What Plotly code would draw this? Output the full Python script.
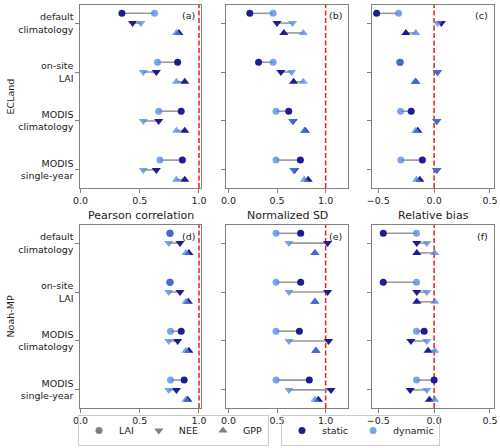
import plotly.graph_objects as go

# ---------------- data ----------------
configs = ["default<br>climatology", "on-site<br>LAI", "MODIS<br>climatology", "MODIS<br>single-year"]
variables = ["LAI", "NEE", "GPP"]
metric_titles = ["Pearson correlation", "Normalized SD", "Relative bias"]
model_names = ["ECLand", "Noah-MP"]
panel_labels = ["(a)", "(b)", "(c)", "(d)", "(e)", "(f)"]
reference_values = [1.0, 1.0, 0.0, 1.0, 1.0, 0.0]

# ECLand - Pearson correlation
a_static = {"LAI": [0.35, 0.82, 0.85, 0.86], "NEE": [0.44, 0.64, 0.66, 0.64], "GPP": [0.83, 0.88, 0.88, 0.88]}
a_dynamic = {"LAI": [0.625, 0.65, 0.66, 0.67], "NEE": [0.51, 0.53, 0.53, 0.53], "GPP": [0.81, 0.81, 0.81, 0.81]}
# ECLand - Normalized SD
b_static = {"LAI": [0.22, 0.31, 0.62, 0.74], "NEE": [0.50, 0.54, 0.665, 0.68], "GPP": [0.57, 0.67, 0.79, 0.82]}
b_dynamic = {"LAI": [0.46, 0.46, 0.49, 0.49], "NEE": [0.66, 0.65, 0.66, 0.67], "GPP": [0.77, 0.77, 0.78, 0.78]}
# ECLand - Relative bias
c_static = {"LAI": [-0.515, -0.305, -0.205, -0.105], "NEE": [0.065, 0.03, 0.024, 0.024], "GPP": [-0.253, -0.165, -0.146, -0.128]}
c_dynamic = {"LAI": [-0.318, -0.307, -0.30, -0.298], "NEE": [0.03, 0.03, 0.024, 0.024], "GPP": [-0.164, -0.17, -0.164, -0.158]}
# Noah-MP - Pearson correlation
d_static = {"LAI": [0.755, 0.755, 0.85, 0.875], "NEE": [0.84, 0.84, 0.82, 0.81], "GPP": [0.915, 0.91, 0.915, 0.905]}
d_dynamic = {"LAI": [0.755, 0.755, 0.76, 0.76], "NEE": [0.745, 0.745, 0.745, 0.745], "GPP": [0.89, 0.89, 0.89, 0.89]}
# Noah-MP - Normalized SD
e_static = {"LAI": [0.743, 0.743, 0.73, 0.832], "NEE": [1.02, 1.02, 1.03, 1.055], "GPP": [0.89, 0.89, 0.90, 0.925]}
e_dynamic = {"LAI": [0.49, 0.49, 0.49, 0.49], "NEE": [0.623, 0.623, 0.623, 0.623], "GPP": [0.89, 0.89, 0.90, 0.89]}
# Noah-MP - Relative bias
f_static = {"LAI": [-0.455, -0.455, -0.089, 0.0], "NEE": [-0.155, -0.155, -0.208, -0.214], "GPP": [-0.155, -0.155, -0.054, -0.042]}
f_dynamic = {"LAI": [-0.158, -0.158, -0.158, -0.158], "NEE": [-0.065, -0.065, -0.065, -0.065], "GPP": [0.006, 0.006, 0.006, 0.006]}

panels_static = [a_static, b_static, c_static, d_static, e_static, f_static]
panels_dynamic = [a_dynamic, b_dynamic, c_dynamic, d_dynamic, e_dynamic, f_dynamic]

# ---------------- style ----------------
W, H = 500, 448
FONT = "DejaVu Sans"
STATIC_C = "#1c1c94"
DYN_C = "rgb(78,134,235)"
DYN_OP = 0.75
LINE_C = "#9a9a9a"
SPINE_C = "#808080"
symbols = {"LAI": "circle", "NEE": "triangle-down", "GPP": "triangle-up"}
sizes = {"LAI": 7, "NEE": 8, "GPP": 8}
offsets = {"LAI": -0.2, "NEE": 0.0, "GPP": 0.2}

col_px = [(80, 201), (226, 348), (372, 494)]
row_px = [(5, 188), (225, 408)]
x_ranges = [[-0.004, 1.017], [-0.025, 1.23], [-0.556, 0.536]]
x_ticks = [[0, 0.5, 1.0], [0, 0.5, 1.0], [-0.5, 0.0, 0.5]]

fig = go.Figure()
layout = dict(
    template="none",
    width=W, height=H, margin=dict(l=0, r=0, t=0, b=0, pad=0, autoexpand=False),
    paper_bgcolor="white", plot_bgcolor="white",
    font=dict(family=FONT, size=9.5, color="#222222"),
    shapes=[], annotations=[],
)

for k in range(6):
    r, c = divmod(k, 3)
    xa = "xaxis" if k == 0 else f"xaxis{k+1}"
    ya = "yaxis" if k == 0 else f"yaxis{k+1}"
    xr = "x" if k == 0 else f"x{k+1}"
    yr = "y" if k == 0 else f"y{k+1}"
    x0p, x1p = col_px[c]
    y0p, y1p = row_px[r]
    layout[xa] = dict(
        domain=[x0p / W, x1p / W], anchor=yr, range=x_ranges[c], automargin=False,
        tickvals=x_ticks[c], ticktext=[f"{v:.1f}".replace("-", "\u2212") for v in x_ticks[c]],
        showgrid=False, zeroline=False, showline=True, mirror=True,
        linecolor=SPINE_C, linewidth=1.3, ticks="outside", ticklen=3.5,
        tickcolor=SPINE_C, tickwidth=1, tickfont=dict(size=9.5, color="#222222"),
    )
    layout[ya] = dict(
        domain=[1 - y1p / H, 1 - y0p / H], anchor=xr, range=[3.37, -0.37], automargin=False,
        tickvals=list(range(len(configs))),
        ticktext=configs if c == 0 else [""] * len(configs),
        showgrid=False, zeroline=False, showline=True, mirror=True,
        linecolor=SPINE_C, linewidth=1.3, ticks="outside", ticklen=3.5,
        tickcolor=SPINE_C, tickwidth=1, tickfont=dict(size=9.5, color="#222222"),
    )
    # reference line
    layout["shapes"].append(dict(
        type="line", xref=xr, yref=f"{yr} domain", x0=reference_values[k], x1=reference_values[k],
        y0=0, y1=1, line=dict(color="#e8201c", width=1.5, dash="5px,2.5px"), layer="below",
    ))
    # panel label
    layout["annotations"].append(dict(
        text=panel_labels[k], xref="paper", yref="paper",
        x=(x1p - 4) / W, y=1 - (y0p + 11) / H, xanchor="right", yanchor="middle",
        showarrow=False, font=dict(size=9.5, color="#222222"),
    ))

    st, dy = panels_static[k], panels_dynamic[k]
    for var in variables:
        lx, ly = [], []
        for i in range(len(configs)):
            yy = i + offsets[var]
            lx += [st[var][i], dy[var][i], None]
            ly += [yy, yy, None]
        fig.add_trace(go.Scatter(x=lx, y=ly, mode="lines", line=dict(color=LINE_C, width=1.6),
                                 xaxis=xr, yaxis=yr, showlegend=False, hoverinfo="skip"))
    for var in variables:
        ys = [i + offsets[var] for i in range(len(configs))]
        fig.add_trace(go.Scatter(x=st[var], y=ys, mode="markers",
                                 marker=dict(symbol=symbols[var], size=sizes[var], color=STATIC_C, line=dict(width=0)),
                                 xaxis=xr, yaxis=yr, showlegend=False))
    for var in variables:
        ys = [i + offsets[var] for i in range(len(configs))]
        fig.add_trace(go.Scatter(x=dy[var], y=ys, mode="markers", opacity=DYN_OP,
                                 marker=dict(symbol=symbols[var], size=sizes[var], color=DYN_C, line=dict(width=0)),
                                 xaxis=xr, yaxis=yr, showlegend=False))

# column titles (bottom row)
for c, t in enumerate(metric_titles):
    layout["annotations"].append(dict(
        text=t, xref="paper", yref="paper", x=(col_px[c][0] + col_px[c][1]) / 2 / W, y=1 - 215 / H,
        xanchor="center", yanchor="middle", showarrow=False, font=dict(size=11, color="#222222"),
    ))
# row titles
for r, name in enumerate(model_names):
    layout["annotations"].append(dict(
        text=name, xref="paper", yref="paper", x=10 / W, y=1 - (row_px[r][0] + row_px[r][1]) / 2 / H,
        xanchor="center", yanchor="middle", textangle=-90, showarrow=False,
        font=dict(size=9.5, color="#222222"),
    ))

# legend entries
for var in variables:
    fig.add_trace(go.Scatter(x=[None], y=[None], mode="markers", name=var, legend="legend",
                             marker=dict(symbol=symbols[var], size=sizes[var], color="#808080")))
fig.add_trace(go.Scatter(x=[None], y=[None], mode="markers", name="static", legend="legend2",
                         marker=dict(symbol="circle", size=7, color=STATIC_C)))
fig.add_trace(go.Scatter(x=[None], y=[None], mode="markers", name="dynamic", legend="legend2",
                         marker=dict(symbol="circle", size=7, color=DYN_C), opacity=DYN_OP))

legend_common = dict(orientation="h", yanchor="bottom", xanchor="center", bgcolor="rgba(255,255,255,0)",
                     bordercolor="#cccccc", borderwidth=1, font=dict(size=9.5, color="#222222"),
                     itemclick=False, itemdoubleclick=False)
layout["legend"] = dict(x=173.5 / W, y=1 - 446 / H, **legend_common)
layout["legend2"] = dict(x=360.5 / W, y=1 - 446 / H, **legend_common)

fig.update_layout(**layout)
fig.write_html(
    "out.html",
    config={"displayModeBar": False},
    post_script="document.body.style.margin='0px';document.body.style.overflow='hidden';",
)
